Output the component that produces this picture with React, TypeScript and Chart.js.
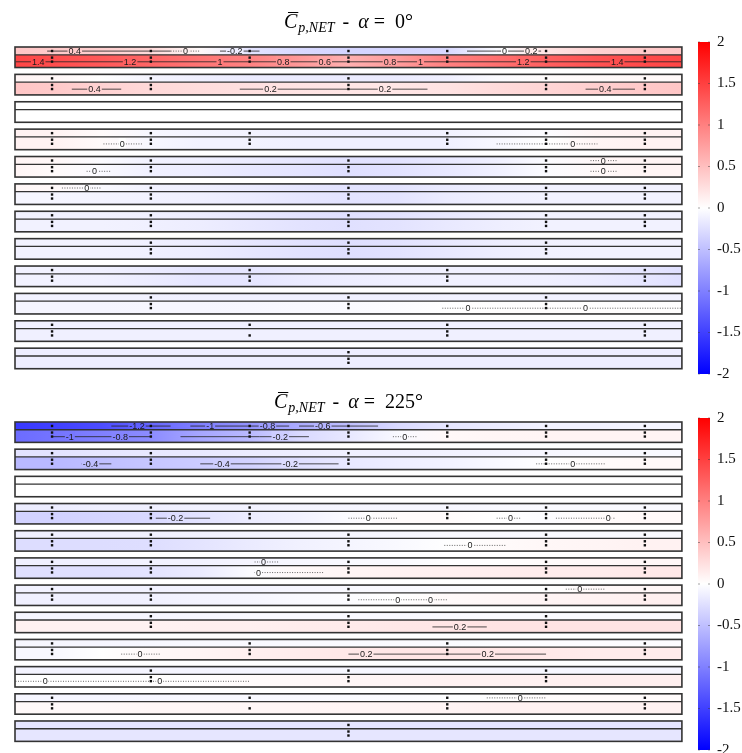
import React, { useEffect, useRef } from 'react';
import { Chart, registerables } from 'chart.js';

Chart.register(...registerables);

// ------------------------------------------------------------------
// DATA
// ------------------------------------------------------------------
// pressure tap columns (x position in tap-spacing units)
const TAP_X = [1, 2, 3, 4, 5, 6, 7];
// tap columns present on every strip (row 0 = top of facade)
const TAP_COLUMNS: number[][] = [
  [1, 2, 3, 4, 5, 6, 7],
  [1, 2, 4, 6, 7],
  [],
  [1, 2, 3, 5, 6, 7],
  [1, 2, 4, 6, 7],
  [1, 2, 4, 6, 7],
  [1, 2, 4, 6, 7],
  [2, 4, 6],
  [1, 3, 5, 7],
  [2, 4, 6],
  [1, 3, 5, 7],
  [4],
];
// [strip, column] where the lower face has a single tap
const TAP_BOTTOM_SINGLE: number[][] = [[10, 3]];

const STRIP_X = [0.625, 7.375];
const STOP_X = [0.625, 1, 1.5, 2, 2.5, 3, 3.5, 4, 4.5, 5, 5.5, 6, 6.5, 7, 7.375];
const CB_RANGE = [-2, 2];
const CB_STEP = 0.5;
const ANGLES = ['0°', '225°'];

// alpha = 0 deg : upper (thin) row of each strip
const CP0_TOP: number[][] = [
  [0.45, 0.42, 0.38, 0.3, 0.05, -0.22, -0.3, -0.33, -0.33, -0.3, -0.05, 0.22, 0.35, 0.42, 0.45],
  [0.08, 0.06, 0.0, -0.08, -0.12, -0.15, -0.15, -0.15, -0.15, -0.12, -0.03, 0.02, 0.04, 0.05, 0.05],
  [0, 0, 0, 0, 0, 0, 0, 0, 0, 0, 0, 0, 0, 0, 0],
  [0.1, 0.1, 0.04, -0.06, -0.09, -0.1, -0.11, -0.12, -0.12, -0.1, -0.06, -0.02, 0.08, 0.1, 0.1],
  [0.08, 0.06, -0.03, -0.1, -0.12, -0.15, -0.19, -0.23, -0.22, -0.17, -0.12, -0.03, 0.06, 0.08, 0.08],
  [0.06, 0.05, -0.04, -0.1, -0.12, -0.15, -0.19, -0.22, -0.21, -0.16, -0.12, -0.1, -0.1, -0.1, -0.1],
  [-0.1, -0.1, -0.1, -0.12, -0.14, -0.18, -0.22, -0.24, -0.22, -0.17, -0.13, -0.1, -0.1, -0.1, -0.1],
  [-0.1, -0.1, -0.1, -0.12, -0.14, -0.19, -0.23, -0.25, -0.23, -0.18, -0.13, -0.11, -0.1, -0.1, -0.1],
  [-0.1, -0.1, -0.11, -0.15, -0.2, -0.2, -0.16, -0.13, -0.12, -0.11, -0.11, -0.12, -0.15, -0.2, -0.24],
  [-0.1, -0.1, -0.1, -0.1, -0.11, -0.11, -0.11, -0.11, -0.11, -0.1, -0.1, -0.1, -0.1, -0.1, -0.1],
  [-0.12, -0.12, -0.12, -0.12, -0.12, -0.12, -0.12, -0.12, -0.12, -0.12, -0.12, -0.12, -0.12, -0.12, -0.12],
  [-0.13, -0.13, -0.13, -0.13, -0.13, -0.13, -0.13, -0.13, -0.13, -0.13, -0.13, -0.13, -0.13, -0.13, -0.13],
];
// alpha = 0 deg : lower (wide) row of each strip
const CP0_BOTTOM: number[][] = [
  [1.45, 1.4, 1.3, 1.2, 1.08, 0.98, 0.8, 0.62, 0.78, 1.0, 1.12, 1.25, 1.35, 1.42, 1.45],
  [0.45, 0.42, 0.35, 0.3, 0.27, 0.24, 0.21, 0.2, 0.2, 0.22, 0.28, 0.33, 0.38, 0.42, 0.45],
  [0, 0, 0, 0, 0, 0, 0, 0, 0, 0, 0, 0, 0, 0, 0],
  [0.1, 0.1, 0.04, -0.06, -0.1, -0.1, -0.12, -0.12, -0.12, -0.12, -0.06, 0.0, 0.08, 0.1, 0.1],
  [0.08, 0.04, -0.04, -0.12, -0.14, -0.18, -0.21, -0.25, -0.23, -0.18, -0.12, -0.03, 0.05, 0.08, 0.08],
  [-0.07, -0.07, -0.09, -0.1, -0.12, -0.15, -0.19, -0.22, -0.21, -0.15, -0.12, -0.1, -0.1, -0.1, -0.1],
  [-0.1, -0.1, -0.1, -0.12, -0.14, -0.18, -0.22, -0.24, -0.22, -0.17, -0.13, -0.1, -0.1, -0.1, -0.1],
  [-0.1, -0.1, -0.1, -0.12, -0.14, -0.19, -0.23, -0.25, -0.23, -0.18, -0.13, -0.11, -0.1, -0.1, -0.1],
  [-0.1, -0.1, -0.11, -0.15, -0.2, -0.2, -0.16, -0.13, -0.12, -0.11, -0.11, -0.12, -0.15, -0.2, -0.24],
  [-0.08, -0.08, -0.08, -0.07, -0.07, -0.06, -0.05, -0.04, -0.02, 0.0, 0.01, 0.01, 0.01, 0.01, 0.01],
  [-0.12, -0.12, -0.12, -0.12, -0.12, -0.12, -0.12, -0.12, -0.12, -0.12, -0.12, -0.12, -0.12, -0.12, -0.12],
  [-0.13, -0.13, -0.13, -0.13, -0.13, -0.13, -0.13, -0.13, -0.13, -0.13, -0.13, -0.13, -0.13, -0.13, -0.13],
];
// alpha = 225 deg : upper row
const CP225_TOP: number[][] = [
  [-1.55, -1.5, -1.4, -1.2, -1.0, -0.85, -0.65, -0.5, -0.3, -0.2, -0.15, -0.1, -0.1, -0.08, -0.08],
  [-0.22, -0.22, -0.2, -0.18, -0.17, -0.15, -0.14, -0.12, -0.12, -0.1, -0.09, -0.06, -0.05, -0.05, -0.05],
  [0, 0, 0, 0, 0, 0, 0, 0, 0, 0, 0, 0, 0, 0, 0],
  [-0.14, -0.14, -0.12, -0.12, -0.1, -0.1, -0.08, -0.07, -0.06, -0.06, -0.05, -0.04, -0.04, -0.04, -0.04],
  [-0.12, -0.12, -0.12, -0.11, -0.1, -0.09, -0.08, -0.07, -0.06, -0.05, -0.05, -0.04, -0.04, -0.04, -0.04],
  [-0.12, -0.12, -0.12, -0.1, -0.1, -0.08, -0.06, -0.05, -0.04, -0.01, 0.01, 0.03, 0.05, 0.06, 0.06],
  [-0.1, -0.1, -0.1, -0.1, -0.09, -0.08, -0.06, -0.05, -0.04, -0.03, -0.01, 0.0, 0.05, 0.06, 0.06],
  [-0.07, -0.07, -0.07, -0.07, -0.06, -0.05, -0.05, -0.05, -0.05, -0.04, -0.03, -0.03, -0.03, -0.03, -0.03],
  [-0.07, -0.07, -0.07, -0.06, -0.05, -0.05, -0.04, -0.04, -0.03, -0.03, -0.02, -0.02, -0.02, -0.02, -0.02],
  [-0.09, -0.09, -0.09, -0.08, -0.08, -0.07, -0.07, -0.06, -0.06, -0.06, -0.06, -0.06, -0.06, -0.06, -0.06],
  [-0.07, -0.07, -0.07, -0.06, -0.05, -0.05, -0.04, -0.03, -0.02, -0.01, 0.0, 0.02, 0.03, 0.03, 0.03],
  [-0.2, -0.2, -0.2, -0.2, -0.2, -0.2, -0.2, -0.2, -0.2, -0.2, -0.2, -0.2, -0.2, -0.2, -0.2],
];
// alpha = 225 deg : lower row
const CP225_BOTTOM: number[][] = [
  [-1.15, -1.1, -1.0, -0.9, -0.7, -0.55, -0.3, -0.18, -0.05, 0.05, 0.07, 0.08, 0.08, 0.08, 0.08],
  [-0.55, -0.55, -0.5, -0.45, -0.4, -0.35, -0.25, -0.18, -0.13, -0.1, -0.05, 0.0, 0.03, 0.05, 0.05],
  [0, 0, 0, 0, 0, 0, 0, 0, 0, 0, 0, 0, 0, 0, 0],
  [-0.35, -0.35, -0.33, -0.3, -0.22, -0.15, -0.1, -0.03, 0.03, 0.03, 0.0, -0.02, 0.03, 0.05, 0.05],
  [-0.27, -0.27, -0.27, -0.26, -0.21, -0.16, -0.11, -0.08, -0.05, -0.01, 0.03, 0.06, 0.08, 0.1, 0.1],
  [-0.24, -0.24, -0.24, -0.22, -0.16, -0.03, 0.05, 0.08, 0.1, 0.12, 0.13, 0.15, 0.15, 0.17, 0.18],
  [-0.12, -0.12, -0.12, -0.11, -0.09, -0.07, -0.04, -0.02, 0.0, 0.04, 0.06, 0.08, 0.1, 0.12, 0.12],
  [0.1, 0.1, 0.1, 0.1, 0.12, 0.12, 0.14, 0.16, 0.18, 0.2, 0.22, 0.22, 0.22, 0.22, 0.22],
  [-0.06, -0.06, 0.0, 0.05, 0.08, 0.12, 0.15, 0.18, 0.2, 0.2, 0.2, 0.17, 0.15, 0.15, 0.15],
  [0.0, 0.0, 0.0, 0.01, 0.01, 0.03, 0.05, 0.07, 0.08, 0.1, 0.1, 0.11, 0.12, 0.12, 0.12],
  [0.05, 0.05, 0.05, 0.06, 0.06, 0.07, 0.07, 0.08, 0.08, 0.09, 0.1, 0.1, 0.1, 0.1, 0.1],
  [-0.2, -0.2, -0.2, -0.2, -0.2, -0.2, -0.2, -0.2, -0.2, -0.2, -0.2, -0.2, -0.2, -0.2, -0.2],
];

// contour labels: [strip, row (0 upper / 1 lower), x, text]
const LABELS_0: [number, number, number, string][] = [
  [0, 0, 1.23, '0.4'], [0, 0, 2.35, '0'], [0, 0, 2.85, '-0.2'], [0, 0, 5.58, '0'], [0, 0, 5.85, '0.2'],
  [0, 1, 0.86, '1.4'], [0, 1, 1.79, '1.2'], [0, 1, 2.7, '1'], [0, 1, 3.34, '0.8'], [0, 1, 3.76, '0.6'],
  [0, 1, 4.42, '0.8'], [0, 1, 4.73, '1'], [0, 1, 5.77, '1.2'], [0, 1, 6.72, '1.4'],
  [1, 1, 1.43, '0.4'], [1, 1, 3.21, '0.2'], [1, 1, 4.37, '0.2'], [1, 1, 6.6, '0.4'],
  [3, 1, 1.71, '0'], [3, 1, 6.27, '0'],
  [4, 1, 1.43, '0'], [4, 0, 6.58, '0'], [4, 1, 6.58, '0'],
  [5, 0, 1.35, '0'],
  [9, 1, 5.21, '0'], [9, 1, 6.4, '0'],
];
// contour segments: [strip, row, x start, x end, dotted (1) / solid (0)]
const LINES_0: number[][] = [
  [0, 0, 0.95, 2.2, 0], [0, 0, 2.2, 2.5, 1], [0, 0, 2.7, 3.1, 0], [0, 0, 5.2, 5.5, 0], [0, 0, 5.5, 5.95, 0],
  [0, 1, 0.63, 7.37, 0],
  [1, 1, 1.2, 1.7, 0], [1, 1, 2.9, 4.8, 0], [1, 1, 6.4, 6.9, 0],
  [3, 1, 1.52, 1.92, 1], [3, 1, 5.5, 6.52, 1],
  [4, 1, 1.35, 1.6, 1], [4, 1, 6.45, 6.72, 1], [4, 0, 6.45, 6.72, 1],
  [5, 0, 1.1, 1.5, 1],
  [9, 1, 4.95, 7.37, 1],
];
const LABELS_225: [number, number, number, string][] = [
  [0, 0, 1.86, '-1.2'], [0, 0, 2.6, '-1'], [0, 0, 3.18, '-0.8'], [0, 0, 3.74, '-0.6'],
  [0, 1, 1.18, '-1'], [0, 1, 1.69, '-0.8'], [0, 1, 3.31, '-0.2'], [0, 1, 4.57, '0'],
  [1, 1, 1.39, '-0.4'], [1, 1, 2.72, '-0.4'], [1, 1, 3.41, '-0.2'], [1, 1, 6.27, '0'],
  [3, 1, 2.25, '-0.2'], [3, 1, 4.2, '0'], [3, 1, 5.64, '0'], [3, 1, 6.63, '0'],
  [4, 1, 5.23, '0'],
  [5, 0, 3.14, '0'], [5, 1, 3.09, '0'],
  [6, 1, 4.5, '0'], [6, 1, 4.83, '0'], [6, 0, 6.34, '0'],
  [7, 1, 5.13, '0.2'],
  [8, 1, 1.89, '0'], [8, 1, 4.18, '0.2'], [8, 1, 5.41, '0.2'],
  [9, 1, 0.93, '0'], [9, 1, 2.09, '0'],
  [10, 0, 5.74, '0'],
];
const LINES_225: number[][] = [
  [0, 0, 1.6, 2.2, 0], [0, 0, 2.4, 3.4, 0], [0, 0, 3.5, 4.3, 0],
  [0, 1, 1.0, 2.0, 0], [0, 1, 2.3, 3.1, 0], [0, 1, 3.1, 3.6, 0], [0, 1, 4.45, 4.7, 1],
  [1, 1, 1.3, 1.6, 0], [1, 1, 2.5, 3.9, 0], [1, 1, 5.9, 6.6, 1],
  [3, 1, 2.05, 2.6, 0], [3, 1, 4.0, 4.5, 1], [3, 1, 5.5, 5.75, 1], [3, 1, 6.1, 6.7, 1],
  [4, 1, 4.97, 5.6, 1],
  [5, 1, 3.05, 3.75, 1], [5, 0, 3.05, 3.3, 1],
  [6, 1, 4.1, 5.0, 1], [6, 0, 6.2, 6.6, 1],
  [7, 1, 4.85, 5.4, 0],
  [8, 1, 1.7, 2.1, 1], [8, 1, 4.0, 6.0, 0],
  [9, 1, 0.63, 3.0, 1],
  [10, 0, 5.4, 6.0, 1],
];

// ------------------------------------------------------------------
// LAYOUT (pixels)
// ------------------------------------------------------------------
const W = 742;
const STRIP_H = 0.75;
const STRIP_DIV = 0.285;
const TOP_DOT = 0.146;
const COLON_A = 0.388;
const COLON_B = 0.535;
const ROW_MID = [0.15, 0.54];

type Panel = {
  top: number[][];
  bottom: number[][];
  labels: [number, number, number, string][];
  lines: number[][];
  angle: string;
  canvasTop: number;
  canvasH: number;
  areaTop: number;
  areaBottom: number;
  stripTop: number;
  pitch: number;
  titleBase: number;
};

const PANELS: Panel[] = [
  {
    top: CP0_TOP, bottom: CP0_BOTTOM, labels: LABELS_0, lines: LINES_0, angle: ANGLES[0],
    canvasTop: 0, canvasH: 385, areaTop: 42, areaBottom: 374, stripTop: 47, pitch: 27.38, titleBase: 28,
  },
  {
    top: CP225_TOP, bottom: CP225_BOTTOM, labels: LABELS_225, lines: LINES_225, angle: ANGLES[1],
    canvasTop: 385, canvasH: 385, areaTop: 33, areaBottom: 365, stripTop: 37, pitch: 27.18, titleBase: 23,
  },
];

const PX_LEFT = 15;
const PX_PER_UNIT = 98.8;
const AXIS_W = 32;
const CB_PX = 698;

function colorOf(v: number): string {
  const t = Math.max(-1, Math.min(1, v / 2));
  if (t < 0) {
    const k = Math.round(255 * (1 + t));
    return `rgb(${k},${k},255)`;
  }
  const k = Math.round(255 * (1 - t));
  return `rgb(255,${k},${k})`;
}

function valueAt(vals: number[], xv: number): number {
  for (let k = 0; k < STOP_X.length - 1; k++) {
    if (xv <= STOP_X[k + 1]) {
      const f = (xv - STOP_X[k]) / (STOP_X[k + 1] - STOP_X[k]);
      return vals[k] + f * (vals[k + 1] - vals[k]);
    }
  }
  return vals[vals.length - 1];
}

function drawTitle(ctx: CanvasRenderingContext2D, cx: number, base: number, angle: string) {
  const fam = '"Liberation Serif", "DejaVu Serif", serif';
  const parts = [
    { t: 'C', f: `italic 20px ${fam}`, dy: 0, gap: 0 },
    { t: 'p,NET', f: `italic 14px ${fam}`, dy: 4, gap: 1 },
    { t: '-', f: `20px ${fam}`, dy: 0, gap: 8 },
    { t: 'α', f: `italic 20px ${fam}`, dy: 0, gap: 9 },
    { t: '=', f: `20px ${fam}`, dy: 0, gap: 5 },
    { t: angle, f: `20px ${fam}`, dy: 0, gap: 10 },
  ];
  ctx.save();
  let total = 0;
  const widths = parts.map((p) => {
    ctx.font = p.f;
    const w = ctx.measureText(p.t).width;
    total += w + p.gap;
    return w;
  });
  let xx = cx - total / 2;
  ctx.fillStyle = '#000';
  ctx.textBaseline = 'alphabetic';
  ctx.textAlign = 'left';
  parts.forEach((p, k) => {
    xx += p.gap;
    ctx.font = p.f;
    ctx.fillText(p.t, xx, base + p.dy);
    if (k === 0) {
      ctx.strokeStyle = '#000';
      ctx.lineWidth = 1;
      ctx.beginPath();
      ctx.moveTo(xx + 4, base - 15.5);
      ctx.lineTo(xx + widths[0] + 1, base - 15.5);
      ctx.stroke();
    }
    xx += widths[k];
  });
  ctx.restore();
}

function PanelChart({ panel }: { panel: Panel }) {
  const ref = useRef<HTMLCanvasElement | null>(null);

  useEffect(() => {
    const canvas = ref.current;
    if (!canvas) return;
    const p = panel;
    const yMin = -(p.stripTop - p.areaTop) / p.pitch;
    const yMax = yMin + (p.areaBottom - p.areaTop) / p.pitch;
    const xMin = STRIP_X[0];
    const xMax = xMin + (W - AXIS_W - PX_LEFT) / PX_PER_UNIT;
    const cbX = xMin + (CB_PX - PX_LEFT) / PX_PER_UNIT;

    const topDots: { x: number; y: number }[] = [];
    const lowDots: { x: number; y: number }[] = [];
    TAP_COLUMNS.forEach((cols, i) => {
      cols.forEach((c) => {
        const xv = TAP_X[c - 1];
        topDots.push({ x: xv, y: i + TOP_DOT });
        const single = TAP_BOTTOM_SINGLE.some(([s, cc]) => s === i && cc === c);
        if (!single) lowDots.push({ x: xv, y: i + COLON_A });
        lowDots.push({ x: xv, y: i + COLON_B });
      });
    });

    const datasets: any[] = [
      {
        data: topDots, pointStyle: 'rect', pointRadius: 1.7, backgroundColor: '#111',
        borderWidth: 0, showLine: false,
      },
      {
        data: lowDots, pointStyle: 'rect', pointRadius: 1.7, backgroundColor: '#111',
        borderWidth: 0, showLine: false,
      },
    ];
    p.lines.forEach(([s, r, x0, x1, d]) => {
      datasets.push({
        data: [{ x: x0, y: s + ROW_MID[r] }, { x: x1, y: s + ROW_MID[r] }],
        showLine: true, pointRadius: 0, borderColor: d ? '#555' : '#222',
        borderWidth: d ? 0.9 : 0.8, borderDash: d ? [1, 1.5] : [],
      });
    });

    const stripPlugin = {
      id: 'strips',
      beforeDatasetsDraw(chart: any) {
        const { ctx, scales } = chart;
        const x = scales.x, y = scales.y, cb = scales.cb;
        const px0 = x.getPixelForValue(STRIP_X[0]);
        const px1 = x.getPixelForValue(STRIP_X[1]);
        ctx.save();
        for (let i = 0; i < p.top.length; i++) {
          const yT = y.getPixelForValue(i);
          const yD = y.getPixelForValue(i + STRIP_DIV);
          const yB = y.getPixelForValue(i + STRIP_H);
          [p.top[i], p.bottom[i]].forEach((vals, r) => {
            const g = ctx.createLinearGradient(px0, 0, px1, 0);
            STOP_X.forEach((sx, k) => {
              g.addColorStop((x.getPixelForValue(sx) - px0) / (px1 - px0), colorOf(vals[k]));
            });
            ctx.fillStyle = g;
            if (r === 0) ctx.fillRect(px0, yT, px1 - px0, yD - yT);
            else ctx.fillRect(px0, yD, px1 - px0, yB - yD);
          });
        }
        // colour bar
        const cTop = cb.getPixelForValue(CB_RANGE[1]);
        const cBot = cb.getPixelForValue(CB_RANGE[0]);
        const cg = ctx.createLinearGradient(0, cTop, 0, cBot);
        for (let v = CB_RANGE[1]; v >= CB_RANGE[0] - 1e-9; v -= CB_STEP / 2) {
          cg.addColorStop((cb.getPixelForValue(v) - cTop) / (cBot - cTop), colorOf(v));
        }
        const cbL = x.getPixelForValue(cbX);
        const cbR = chart.chartArea.right;
        ctx.fillStyle = cg;
        ctx.fillRect(cbL, cTop, cbR - cbL, cBot - cTop);
        ctx.strokeStyle = 'rgba(60,60,60,0.6)';
        ctx.lineWidth = 0.8;
        for (let v = CB_RANGE[0]; v <= CB_RANGE[1] + 1e-9; v += CB_STEP) {
          const yy = cb.getPixelForValue(v);
          ctx.beginPath();
          ctx.moveTo(cbR - 2, yy);
          ctx.lineTo(cbR, yy);
          ctx.moveTo(cbL, yy);
          ctx.lineTo(cbL + 2, yy);
          ctx.stroke();
        }
        ctx.restore();
      },
      afterDatasetsDraw(chart: any) {
        const { ctx, scales } = chart;
        const x = scales.x, y = scales.y;
        const px0 = x.getPixelForValue(STRIP_X[0]);
        const px1 = x.getPixelForValue(STRIP_X[1]);
        ctx.save();
        // contour labels
        ctx.font = '9px "Liberation Sans", Arial, sans-serif';
        ctx.textAlign = 'center';
        ctx.textBaseline = 'middle';
        p.labels.forEach(([s, r, xv, txt]) => {
          const vals = r === 0 ? p.top[s] : p.bottom[s];
          const cx = x.getPixelForValue(xv);
          const cy = y.getPixelForValue(s + ROW_MID[r]);
          const w = ctx.measureText(txt).width + 2;
          const rT = y.getPixelForValue(s + (r === 0 ? 0 : STRIP_DIV));
          const rB = y.getPixelForValue(s + (r === 0 ? STRIP_DIV : STRIP_H));
          ctx.fillStyle = colorOf(valueAt(vals, xv));
          ctx.fillRect(cx - w / 2, rT + 1, w, rB - rT - 2);
          ctx.fillStyle = '#1a1a1a';
          ctx.fillText(txt, cx, cy + 0.5);
        });
        // strip outlines
        ctx.strokeStyle = '#333';
        for (let i = 0; i < p.top.length; i++) {
          const yT = y.getPixelForValue(i);
          const yD = y.getPixelForValue(i + STRIP_DIV);
          const yB = y.getPixelForValue(i + STRIP_H);
          ctx.lineWidth = 1.6;
          ctx.strokeRect(px0, yT, px1 - px0, yB - yT);
          ctx.lineWidth = 1.3;
          ctx.beginPath();
          ctx.moveTo(px0, yD);
          ctx.lineTo(px1, yD);
          ctx.stroke();
        }
        ctx.restore();
      },
      afterDraw(chart: any) {
        const x = chart.scales.x;
        drawTitle(chart.ctx, x.getPixelForValue((STRIP_X[0] + STRIP_X[1]) / 2), p.titleBase, p.angle);
      },
    };

    const chart = new Chart(canvas, {
      type: 'scatter',
      data: { datasets },
      options: {
        animation: false,
        responsive: false,
        events: [],
        layout: {
          padding: { left: PX_LEFT, right: 0, top: p.areaTop, bottom: p.canvasH - p.areaBottom },
        },
        plugins: { legend: { display: false }, tooltip: { enabled: false }, title: { display: false } },
        scales: {
          x: { type: 'linear', min: xMin, max: xMax, display: false },
          y: { type: 'linear', min: yMin, max: yMax, reverse: true, display: false },
          cb: {
            type: 'linear',
            position: 'right',
            min: CB_RANGE[0],
            max: CB_RANGE[1],
            grid: { display: false, drawTicks: false },
            border: { display: false },
            ticks: {
              stepSize: CB_STEP,
              padding: 7,
              color: '#111',
              font: { family: '"Liberation Serif", "DejaVu Serif", serif', size: 15 },
              callback: (v: any) => String(Math.round(Number(v) * 10) / 10),
            },
            afterFit: (scale: any) => {
              scale.width = AXIS_W;
              scale.paddingTop = 0;
              scale.paddingBottom = 0;
            },
          },
        },
      } as any,
      plugins: [stripPlugin],
    });
    return () => chart.destroy();
  }, [panel]);

  return (
    <canvas
      ref={ref}
      width={W}
      height={panel.canvasH}
      style={{ position: 'absolute', left: 0, top: panel.canvasTop, width: W, height: panel.canvasH }}
    />
  );
}

export default function App() {
  return (
    <div style={{ position: 'absolute', left: 0, top: 0, width: W, height: 753, background: '#fff', overflow: 'hidden' }}>
      {PANELS.map((p, k) => (
        <PanelChart key={k} panel={p} />
      ))}
    </div>
  );
}
